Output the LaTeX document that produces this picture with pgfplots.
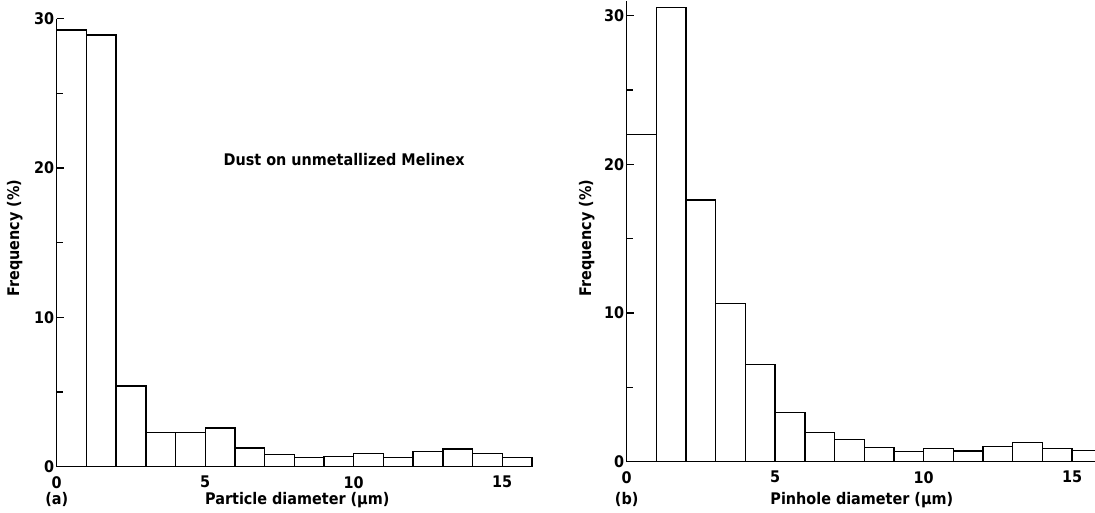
\documentclass[border=0pt]{standalone}
\usepackage{fontspec}
\setmainfont{DejaVu Sans Condensed}
\usepackage{pgfplots}
\pgfplotsset{compat=1.18}

% bin start (um) and frequency (%), last row closes the last bin
\pgfplotstableread{
x   f
0   29.25
1   28.9
2   5.4
3   2.3
4   2.3
5   2.6
6   1.25
7   0.8
8   0.6
9   0.67
10  0.9
11  0.63
12  1.03
13  1.18
14  0.9
15  0.63
16  0.63
}\dust

\pgfplotstableread{
x   f
0   22.0
1   30.55
2   17.6
3   10.65
4   6.55
5   3.32
6   1.98
7   1.5
8   0.97
9   0.67
10  0.9
11  0.72
12  1.03
13  1.28
14  0.9
15  0.77
16  0.77
}\pinhole

\newcommand\lbl{\fontsize{16}{17}\selectfont\bfseries}
% short inward tick at y=#1 on the left axis line
\newcommand\ytickmark[1]{\addplot[forget plot, black, line width=1.2pt] coordinates {(0,#1) (0.24,#1)};}

\pgfplotsset{histo/.style={
  scale only axis, axis lines=left, axis on top,
  axis line style={-, line width=1.4pt},
  xmin=0, ymin=0,
  xtick=\empty, extra x ticks={0,5,10,15},
  extra x tick style={major tick length=0pt},
  ytick={0,10,20,30}, minor ytick={5,15,25},
  tick align=inside, major tick length=7pt, minor tick length=6pt,
  every tick/.style={black, line width=1.2pt},
  tick label style={font=\lbl},
  /pgf/number format/assume math mode=true,
  xticklabel style={yshift=-6pt},
  yticklabel style={xshift=1pt},
  label style={font=\lbl},
  clip=false,
  anchor=origin,
}}

\begin{document}
\begin{tikzpicture}

\begin{axis}[histo,
  at={(56.7pt,45.3pt)},
  width=475.2pt, height=448pt,
  xmax=16, ymax=30,
  xlabel={Particle diameter (µm)},
  ylabel={Frequency (\%)},
  x label style={at={(axis description cs:0.5,0)}, anchor=center, yshift=-33pt, xshift=3pt},
  y label style={at={(axis description cs:-0.088,0.51)}, anchor=center},
]
\addplot[ybar interval, fill=white, draw=black, line width=1.4pt] table[x=x, y=f] {\dust};
\ytickmark{10}
\ytickmark{20}
\ytickmark{30}
\node[font=\lbl] at (axis cs:0,0) [yshift=-33pt] {(a)};
\node[font=\lbl, anchor=west] at (axis cs:5.5,20) [yshift=8pt] {Dust on unmetallized Melinex};
\end{axis}

\begin{axis}[histo,
  at={(626.7pt,50.3pt)},
  width=468.3pt, height=461pt,
  xmax=15.77, ymax=31,
  xlabel={Pinhole diameter (µm)},
  ylabel={Frequency (\%)},
  x label style={at={(axis description cs:0.5,0)}, anchor=center, yshift=-38pt, xshift=1pt},
  y label style={at={(axis description cs:-0.085,0.485)}, anchor=center},
]
\addplot[ybar interval, fill=white, draw=black, line width=1.4pt] table[x=x, y=f] {\pinhole};
\ytickmark{10}
\ytickmark{20}
\ytickmark{30}
\node[font=\lbl] at (axis cs:0,0) [yshift=-38pt] {(b)};
\end{axis}

\pgfresetboundingbox
\path[use as bounding box] (0,0) rectangle (1095pt,512pt);
\end{tikzpicture}
\end{document}
